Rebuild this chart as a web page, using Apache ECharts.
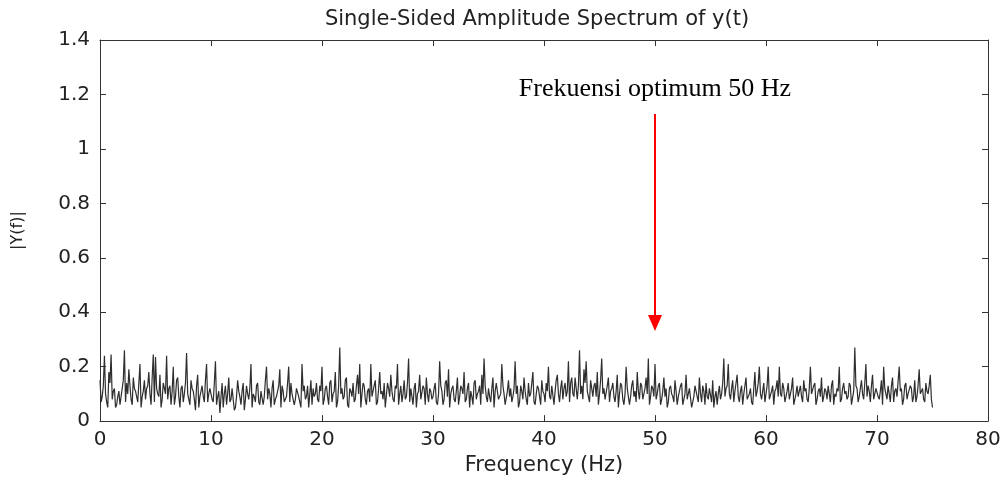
<!DOCTYPE html>
<html>
<head>
<meta charset="utf-8">
<script src="https://cdn.jsdelivr.net/npm/echarts@6/dist/echarts.min.js"></script>
<style>html,body{margin:0;padding:0;background:#fff}#c{width:1008px;height:481px}</style>
</head>
<body>
<div id="c"></div>
<script>
// Frequency grid step (Hz)
const freqStep = 0.1;
// |Y(f)| values at 0.0, 0.2, 0.4 ... Hz, 10 Hz per block
const amp0_10 = [0.15,0.09,0.24,0.07,0.18,0.245,0.11,0.05,0.09,0.06,0.12,0.26,0.14,0.19,0.08,0.16,0.11,0.07,0.21,0.09,0.15,0.12,0.18,0.06,0.245,0.235,0.10,0.17,0.08,0.14,0.24,0.12,0.06,0.20,0.09,0.16,0.05,0.13,0.10,0.25,0.08,0.15,0.11,0.04,0.17,0.09,0.13,0.07,0.21,0.10];
const amp10_20 = [0.12,0.07,0.22,0.09,0.03,0.14,0.10,0.06,0.16,0.08,0.12,0.05,0.15,0.09,0.11,0.04,0.13,0.08,0.21,0.10,0.07,0.14,0.06,0.11,0.09,0.20,0.12,0.05,0.15,0.08,0.11,0.19,0.13,0.07,0.09,0.20,0.14,0.10,0.08,0.12,0.09,0.21,0.13,0.09,0.05,0.15,0.12,0.10,0.08,0.13];
const amp20_30 = [0.20,0.08,0.13,0.06,0.15,0.10,0.18,0.07,0.27,0.12,0.09,0.16,0.05,0.11,0.14,0.08,0.17,0.21,0.10,0.13,0.06,0.12,0.21,0.09,0.15,0.07,0.18,0.11,0.14,0.05,0.12,0.17,0.08,0.13,0.21,0.10,0.07,0.15,0.09,0.23,0.12,0.06,0.14,0.10,0.17,0.08,0.12,0.16,0.07,0.11];
const amp30_40 = [0.09,0.14,0.06,0.22,0.11,0.08,0.15,0.19,0.10,0.13,0.07,0.16,0.09,0.12,0.18,0.08,0.14,0.11,0.06,0.15,0.10,0.13,0.17,0.23,0.09,0.12,0.07,0.16,0.11,0.14,0.08,0.21,0.10,0.06,0.15,0.12,0.09,0.22,0.13,0.07,0.11,0.16,0.08,0.14,0.10,0.18,0.06,0.13,0.09,0.15];
const amp40_50 = [0.10,0.14,0.20,0.08,0.13,0.11,0.17,0.07,0.15,0.12,0.09,0.22,0.14,0.10,0.16,0.08,0.26,0.13,0.19,0.22,0.11,0.15,0.09,0.14,0.18,0.10,0.23,0.12,0.08,0.16,0.11,0.14,0.07,0.17,0.10,0.13,0.06,0.20,0.12,0.09,0.15,0.11,0.18,0.08,0.13,0.10,0.16,0.23,0.09,0.12];
const amp50_60 = [0.21,0.10,0.14,0.08,0.16,0.12,0.07,0.13,0.09,0.15,0.06,0.11,0.14,0.08,0.17,0.10,0.12,0.05,0.13,0.09,0.16,0.07,0.11,0.14,0.08,0.12,0.15,0.09,0.06,0.13,0.10,0.23,0.12,0.21,0.08,0.15,0.11,0.17,0.07,0.13,0.10,0.16,0.09,0.12,0.06,0.18,0.11,0.20,0.08,0.14];
const amp60_70 = [0.10,0.20,0.08,0.13,0.11,0.15,0.20,0.09,0.12,0.07,0.14,0.10,0.16,0.08,0.13,0.11,0.09,0.15,0.12,0.07,0.20,0.10,0.14,0.08,0.12,0.16,0.09,0.11,0.13,0.07,0.15,0.10,0.12,0.20,0.08,0.14,0.11,0.09,0.13,0.06,0.27,0.12,0.09,0.15,0.08,0.21,0.13,0.07,0.17,0.10];
const amp70_75 = [0.12,0.08,0.15,0.20,0.10,0.13,0.07,0.16,0.11,0.09,0.20,0.12,0.08,0.14,0.10,0.13,0.07,0.15,0.09,0.19,0.11,0.08,0.14,0.10,0.17,0.05];
// |Y(f)| values at the in-between bins 0.1, 0.3, 0.5 ... Hz
const mid0_10 = [0.07,0.13,0.10,0.05,0.14,0.08,0.12,0.06,0.11,0.09,0.15,0.07,0.10,0.13,0.06,0.12,0.09,0.14,0.05,0.11,0.08,0.13,0.10,0.16,0.07,0.12,0.09,0.05,0.14,0.10,0.08,0.13,0.11,0.06,0.15,0.09,0.12,0.07,0.14,0.10,0.06,0.12,0.08,0.13,0.05,0.11,0.09,0.15,0.07,0.12];
const mid10_20 = [0.08,0.14,0.06,0.11,0.09,0.05,0.13,0.10,0.07,0.12,0.04,0.09,0.11,0.06,0.14,0.08,0.10,0.12,0.05,0.09,0.13,0.07,0.11,0.06,0.15,0.08,0.10,0.12,0.06,0.09,0.13,0.05,0.11,0.08,0.14,0.07,0.10,0.06,0.12,0.09,0.05,0.11,0.08,0.13,0.10,0.06,0.09,0.14,0.07,0.11];
const mid20_30 = [0.06,0.12,0.09,0.14,0.07,0.11,0.05,0.13,0.10,0.08,0.15,0.06,0.12,0.09,0.07,0.13,0.10,0.05,0.14,0.08,0.11,0.07,0.09,0.13,0.06,0.12,0.10,0.08,0.05,0.14,0.09,0.11,0.07,0.12,0.06,0.13,0.10,0.08,0.14,0.07,0.09,0.12,0.05,0.11,0.08,0.13,0.06,0.10,0.12,0.08];
const mid30_40 = [0.12,0.07,0.10,0.13,0.06,0.14,0.09,0.05,0.12,0.08,0.11,0.06,0.13,0.10,0.07,0.12,0.05,0.09,0.14,0.08,0.11,0.06,0.10,0.13,0.07,0.09,0.12,0.05,0.14,0.08,0.10,0.13,0.06,0.11,0.09,0.07,0.12,0.10,0.05,0.13,0.08,0.11,0.06,0.09,0.14,0.07,0.10,0.12,0.06,0.11];
const mid40_50 = [0.07,0.11,0.09,0.13,0.06,0.15,0.10,0.12,0.08,0.14,0.11,0.07,0.16,0.09,0.12,0.13,0.10,0.08,0.14,0.11,0.07,0.12,0.13,0.09,0.06,0.15,0.10,0.08,0.13,0.07,0.12,0.09,0.11,0.05,0.14,0.08,0.10,0.12,0.06,0.13,0.09,0.07,0.11,0.14,0.08,0.12,0.10,0.06,0.13,0.09];
const mid50_60 = [0.08,0.13,0.06,0.11,0.09,0.05,0.12,0.10,0.07,0.11,0.09,0.13,0.06,0.10,0.08,0.12,0.05,0.09,0.11,0.07,0.10,0.13,0.06,0.09,0.12,0.07,0.05,0.11,0.10,0.08,0.14,0.09,0.13,0.10,0.12,0.07,0.14,0.09,0.11,0.06,0.13,0.08,0.10,0.07,0.12,0.09,0.14,0.10,0.11,0.07];
const mid60_70 = [0.13,0.08,0.11,0.06,0.12,0.09,0.10,0.14,0.07,0.11,0.08,0.12,0.06,0.10,0.09,0.13,0.07,0.11,0.08,0.12,0.10,0.13,0.06,0.11,0.09,0.07,0.12,0.08,0.10,0.13,0.06,0.09,0.11,0.07,0.12,0.10,0.08,0.14,0.06,0.11,0.13,0.07,0.12,0.10,0.14,0.09,0.11,0.13,0.08,0.12];
const mid70_75 = [0.09,0.11,0.06,0.12,0.08,0.10,0.13,0.07,0.12,0.09,0.11,0.06,0.13,0.08,0.10,0.12,0.09,0.07,0.13,0.10,0.12,0.07,0.11,0.13,0.08];

const xTicks = [0,10,20,30,40,50,60,70,80];
const yTicks = [0,0.2,0.4,0.6,0.8,1,1.2,1.4];
const annotationText = 'Frekuensi optimum 50 Hz';
const annotationFreq = 50;
const arrowFrom = 1.128;
const arrowTo = 0.36;
const annotationY = 1.22;

const evens = [].concat(amp0_10, amp10_20, amp20_30, amp30_40, amp40_50, amp50_60, amp60_70, amp70_75);
const odds = [].concat(mid0_10, mid10_20, mid20_30, mid30_40, mid40_50, mid50_60, mid60_70, mid70_75);
const seriesData = [];
evens.forEach((v, i) => {
  seriesData.push([+(2 * i * freqStep).toFixed(2), v]);
  if (i < odds.length) seriesData.push([+((2 * i + 1) * freqStep).toFixed(2), odds[i]]);
});

const axisCol = '#333';
const font = 'DejaVu Sans';
const chart = echarts.init(document.getElementById('c'), null, {renderer: 'canvas'});
const tickStyle = {show: true, inside: true, length: 6, lineStyle: {color: axisCol, width: 1}};
const lineStyleAx = {show: true, onZero: false, lineStyle: {color: axisCol, width: 1}};
chart.setOption({
  animation: false,
  backgroundColor: '#fff',
  title: {
    text: 'Single-Sided Amplitude Spectrum of y(t)',
    left: 532, top: 4, textAlign: 'center',
    textStyle: {fontFamily: font, fontSize: 21, fontWeight: 'normal', color: '#222'}
  },
  grid: {left: 100, right: 20, top: 40, bottom: 40},
  xAxis: [{
    type: 'value', min: xTicks[0], max: xTicks[xTicks.length-1], interval: 10,
    position: 'bottom',
    name: 'Frequency (Hz)', nameLocation: 'middle', nameGap: 21,
    nameTextStyle: {fontFamily: font, fontSize: 21, color: '#222'},
    axisLine: lineStyleAx,
    axisTick: tickStyle,
    axisLabel: {fontFamily: font, fontSize: 20, color: '#222', margin: 9},
    splitLine: {show: false}
  }, {
    type: 'value', min: 0, max: 80, interval: 10, position: 'top',
    axisLine: lineStyleAx,
    axisTick: tickStyle, axisLabel: {show: false}, splitLine: {show: false}
  }],
  yAxis: [{
    type: 'value', min: yTicks[0], max: yTicks[yTicks.length-1], interval: 0.2,
    position: 'left',
    name: '|Y(f)|', nameLocation: 'middle', nameGap: 74, nameRotate: 90,
    nameTextStyle: {fontFamily: font, fontSize: 16, color: '#222'},
    axisLine: lineStyleAx,
    axisTick: tickStyle,
    axisLabel: {fontFamily: font, fontSize: 20, color: '#222', margin: 10,
      formatter: v => String(+v.toFixed(1))},
    splitLine: {show: false}
  }, {
    type: 'value', min: 0, max: 1.4, interval: 0.2, position: 'right',
    axisLine: lineStyleAx,
    axisTick: tickStyle, axisLabel: {show: false}, splitLine: {show: false}
  }],
  series: [{
    type: 'line',
    data: seriesData,
    showSymbol: false,
    lineStyle: {color: '#2e2e2e', width: 1.2},
    markLine: {
      silent: true,
      symbol: ['none', 'triangle'],
      symbolSize: [14, 16],
      lineStyle: {color: '#ff0000', width: 2, type: 'solid'},
      label: {show: false},
      data: [[{coord: [annotationFreq, arrowFrom]}, {coord: [annotationFreq, arrowTo]}]]
    },
    markPoint: {
      silent: true,
      symbol: 'circle', symbolSize: 0,
      label: {show: true, position: 'inside', formatter: annotationText,
        fontFamily: 'Liberation Serif', fontSize: 26, color: '#000'},
      data: [{coord: [annotationFreq, annotationY]}]
    }
  }]
});
</script>
</body>
</html>
